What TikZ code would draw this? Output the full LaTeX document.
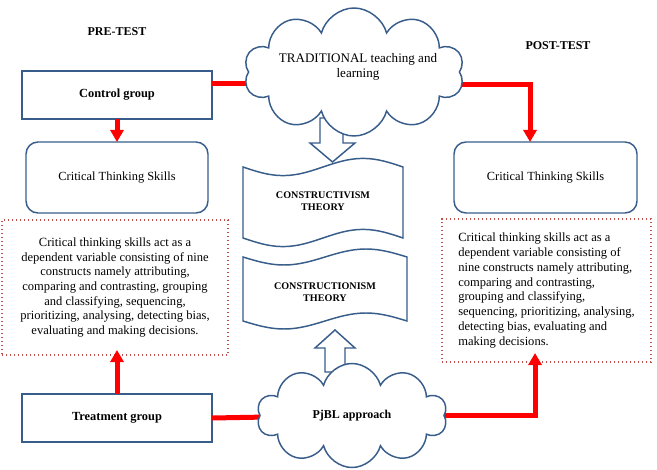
\documentclass[tikz,border=0pt]{standalone}
\usepackage{fontspec}
\setmainfont{Liberation Serif}
\usetikzlibrary{shapes.symbols,arrows.meta,calc}
\definecolor{bluedge}{RGB}{56,93,138}
\definecolor{dotred}{RGB}{192,80,77}
\begin{document}
\begin{tikzpicture}[x=0.75pt,y=-0.75pt,
  every node/.style={outer sep=0pt},
  blbox/.style={draw=bluedge, line width=1.1pt, fill=white, minimum width=142.5pt, minimum height=36pt, font=\bfseries\fontsize{9.3}{11}\selectfont},
  rbox/.style={draw=bluedge, line width=1.1pt, rounded corners=9pt, minimum height=53.25pt, font=\fontsize{9.3}{11}\selectfont},
  dotbox/.style={draw=dotred, line width=0.9pt, dash pattern=on 0.9pt off 2.1pt, font=\fontsize{9.4}{11}\selectfont},
  redline/.style={draw=red, line width=3.75pt},
  redarrow/.style={redline, -{Triangle[width=9.75pt,length=9pt]}},
  cloudst/.style={cloud, cloud puffs=10, cloud ignores aspect, draw=bluedge, line width=1.1pt, fill=white},
  hollow/.style={draw=bluedge, line width=1.1pt, fill=white, line join=miter},
  headst/.style={font=\bfseries\fontsize{9}{11}\selectfont},
  tapetext/.style={font=\bfseries\fontsize{7.6}{9}\selectfont, align=center},
  cloudtext/.style={font=\fontsize{9.8}{11}\selectfont, align=center}
]
\useasboundingbox (0,0) rectangle (657,470);

% headings
\node[headst] (pre) at (117,32) {PRE-TEST};
\node[headst] (post) at (558,46) {POST-TEST};

% boxes
\node[blbox] (ctrl) at (117,95) {Control group};
\node[blbox] (treat) at (117,418) {Treatment group};
\node[rbox, minimum width=136.5pt] (cts1) at (117,177.5) {Critical Thinking Skills};
\node[rbox, minimum width=137.25pt] (cts2) at (545.5,177.5) {Critical Thinking Skills};

\node[dotbox, minimum width=169.5pt, minimum height=101.25pt, align=center] (box1) at (115,287.5)
 {Critical thinking skills act as a\\
  dependent variable consisting of nine\\
  constructs namely attributing,\\
  comparing and contrasting, grouping\\
  and classifying, sequencing,\\
  prioritizing, analysing, detecting bias,\\
  evaluating and making decisions.};

\node[dotbox, minimum width=156.75pt, minimum height=107.25pt, align=left, font=\fontsize{9.4}{11.2}\selectfont] (box2) at (546.5,290.5)
 {Critical thinking skills act as a\\
  dependent variable consisting of\\
  nine constructs namely attributing,\\
  comparing and contrasting,\\
  grouping and classifying,\\
  sequencing, prioritizing, analysing,\\
  detecting bias, evaluating and\\
  making decisions.};

% hollow arrows (drawn before clouds so clouds cover the shaft ends)
\draw[hollow] (320,118) -- (343,118) -- (343,143) -- (355,143) -- (332.5,162) -- (310,143) -- (320,143) -- cycle;
\draw[hollow] (325,372) -- (345,372) -- (345,348) -- (355,348) -- (335,330) -- (315,348) -- (325,348) -- cycle;

% tapes
\draw[hollow] (243,167) sin (283,175.6) cos (323,167) sin (363,158.4) cos (403,167)
  -- (403,238) sin (363,229.4) cos (323,238) sin (283,246.6) cos (243,238) -- cycle;
\draw[hollow] (243,257) sin (284,265) cos (325,257) sin (366,249) cos (407,257)
  -- (407,321) sin (366,313) cos (325,321) sin (284,329) cos (243,321) -- cycle;
\node[tapetext] (cvist) at (323,201) {CONSTRUCTIVISM\\THEORY};
\node[tapetext] (cnism) at (325,292) {CONSTRUCTIONISM\\THEORY};

% red connectors
\coordinate (c1) at ([yshift=8.25pt]ctrl.east);
\coordinate (tradc) at (354,72);
\draw[redline] (c1) -- (c1 -| tradc);
\coordinate (c2) at ([yshift=-9.75pt]tradc);
\coordinate (c3) at ([xshift=-11.6pt]cts2.north);
\draw[redarrow] (c2) -| (c3);
\draw[redarrow] (ctrl.south) -- (cts1.north);
\coordinate (c5) at ([xshift=1.5pt,yshift=3.75pt]box1.south);
\draw[redarrow] (treat.north) -- (c5);
\coordinate (pjc) at (352,415.5);
\draw[redline] (treat.east) -- (pjc);
\coordinate (c4) at ([xshift=-8.6pt,yshift=6.75pt]box2.south);
\draw[redarrow] (pjc) -| (c4);

% clouds
\node[cloudst, minimum width=165pt, minimum height=96pt] (trad) at (tradc) {};
\node[cloudtext] (tradtext) at (358,67) {TRADITIONAL teaching and\\learning};
\node[cloudst, minimum width=142.5pt, minimum height=78pt] (pjbl) at (pjc) {};
\node[cloudtext, font=\bfseries\fontsize{9}{11}\selectfont] (pjtext) at (pjc) {PjBL approach};
\end{tikzpicture}
\end{document}
